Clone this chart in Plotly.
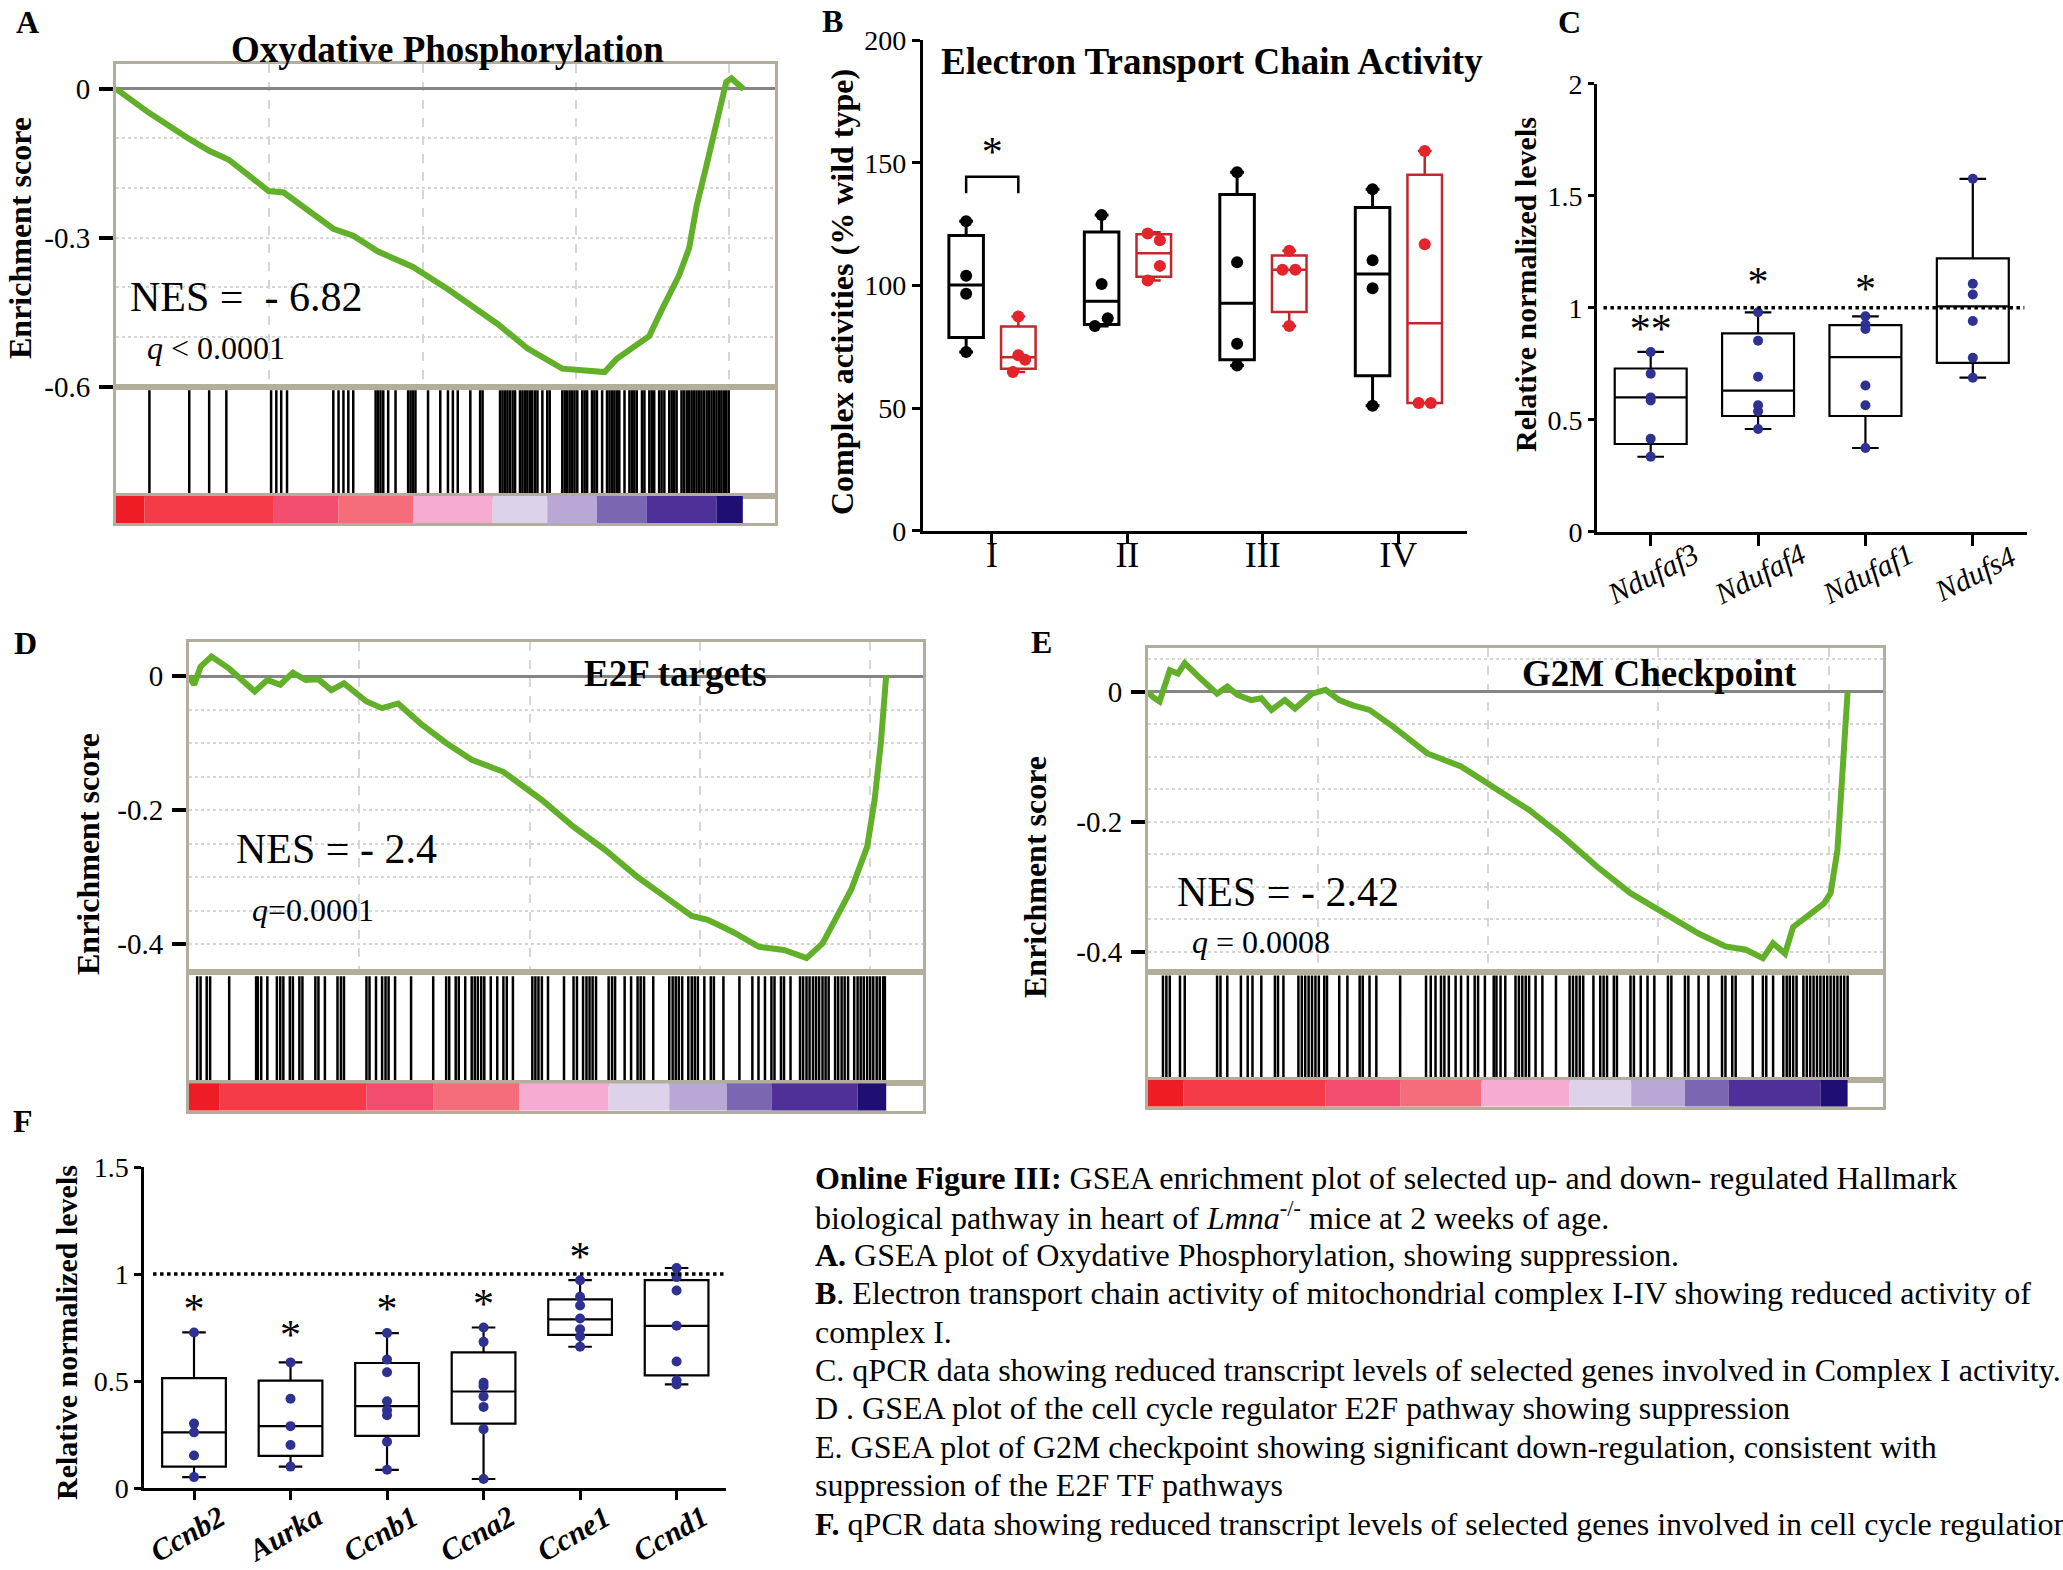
import plotly.graph_objects as go

W, H = 2063, 1570
FONT = "Liberation Serif"

# ---------------- DATA ----------------
# GSEA running enrichment curves (x = gene rank in thousands)
A_CURVE_K = [0, 1.09, 2.39, 3.04, 3.68, 4.98, 5.47, 7.09, 7.74, 8.55, 9.69, 10.83, 12.45, 13.42, 14.56,
             15.21, 15.94, 16.34, 16.83, 17.40, 17.80, 18.37, 18.70, 18.94, 19.27, 19.59, 19.91, 20.08, 20.48]
A_CURVE_ES = [0, -0.049, -0.101, -0.125, -0.143, -0.206, -0.209, -0.282, -0.296, -0.328, -0.359, -0.404,
              -0.474, -0.523, -0.564, -0.568, -0.571, -0.544, -0.523, -0.498, -0.446, -0.376, -0.321,
              -0.237, -0.153, -0.063, 0.014, 0.021, -0.001]
A_HITS = [1.09, 2.39, 3.04, 3.60, 5.06, 5.23, 5.39, 5.58, 7.09, 7.26, 7.42, 7.58, 7.74, 8.47, 8.55, 8.63,
          8.72, 8.88, 9.12, 9.53, 9.61, 9.69, 9.77, 10.18, 10.58, 10.83, 10.99, 11.15, 11.56, 11.88, 11.96,
          12.53, 12.61, 12.69, 12.77, 12.85, 12.94, 13.02, 13.18, 13.26, 13.34, 13.42, 13.50, 13.58, 13.67,
          13.75, 13.91, 14.07, 14.15, 14.56, 14.64, 14.72, 14.80, 14.88, 14.96, 15.05, 15.21, 15.29, 15.37,
          15.53, 15.61, 15.69, 15.86, 16.02, 16.10, 16.18, 16.26, 16.34, 16.42, 16.59, 16.75, 16.83, 16.91,
          16.99, 17.16, 17.24, 17.40, 17.48, 17.56, 17.72, 17.80, 17.89, 18.05, 18.13, 18.21, 18.29, 18.45,
          18.53, 18.62, 18.70, 18.78, 18.86, 18.94, 19.02, 19.10, 19.18, 19.27, 19.35, 19.43, 19.51, 19.59,
          19.67, 19.75, 19.83, 19.91, 19.99]
A_CB_EDGES = [0, 0.93, 5.15, 7.26, 9.69, 12.29, 14.07, 15.69, 17.32, 19.59, 20.45]

D_CURVE_K = [0, 0.15, 0.34, 0.66, 1.18, 1.93, 2.30, 2.68, 3.05, 3.43, 3.80, 4.18, 4.55, 4.93, 5.21, 5.67,
             6.14, 6.80, 7.55, 8.30, 9.23, 10.36, 11.29, 12.23, 13.17, 13.91, 14.76, 15.23, 15.97, 16.72,
             17.47, 18.13, 18.60, 18.97, 19.44, 19.91, 20.13, 20.32, 20.47]
D_CURVE_ES = [0, -0.013, 0.014, 0.029, 0.011, -0.023, -0.006, -0.013, 0.005, -0.006, -0.005, -0.021,
              -0.011, -0.028, -0.038, -0.048, -0.041, -0.071, -0.100, -0.125, -0.143, -0.185, -0.225,
              -0.260, -0.300, -0.327, -0.358, -0.364, -0.382, -0.404, -0.409, -0.421, -0.399, -0.364,
              -0.319, -0.255, -0.185, -0.096, 0.001]
D_HITS = [0.24, 0.34, 0.52, 0.62, 1.18, 1.97, 2.02, 2.12, 2.30, 2.58, 2.68, 2.77, 2.96, 3.05, 3.24, 3.33,
          3.71, 3.80, 3.99, 4.36, 4.46, 4.55, 5.21, 5.30, 5.49, 5.67, 5.77, 5.86, 6.05, 6.52, 7.17, 7.55,
          7.64, 7.83, 7.92, 8.11, 8.30, 8.39, 8.48, 8.58, 8.67, 8.86, 9.05, 9.23, 9.33, 9.51, 10.08, 10.17,
          10.26, 10.36, 10.54, 11.01, 11.29, 11.39, 11.57, 11.67, 11.76, 11.85, 11.95, 12.32, 12.42, 12.51,
          12.79, 12.98, 13.17, 13.26, 13.36, 13.63, 14.10, 14.20, 14.29, 14.38, 14.48, 14.66, 14.76, 14.85,
          14.94, 15.13, 15.32, 15.41, 15.69, 16.16, 16.54, 16.72, 16.91, 17.10, 17.19, 17.38, 17.47, 17.66,
          17.94, 18.03, 18.13, 18.22, 18.32, 18.41, 18.50, 18.60, 18.69, 18.78, 18.97, 19.06, 19.16, 19.25,
          19.35, 19.53, 19.63, 19.72, 19.81, 19.91, 20.00, 20.09, 20.19, 20.28, 20.38, 20.43]
D_CB_EDGES = [0, 0.90, 5.21, 7.17, 9.70, 12.32, 14.10, 15.79, 17.10, 19.63, 20.47]

E_CURVE_K = [0, 0.14, 0.34, 0.64, 0.88, 1.08, 1.53, 2.03, 2.33, 2.63, 3.03, 3.33, 3.63, 4.02, 4.32, 4.82,
             5.22, 5.62, 6.02, 6.51, 7.21, 8.21, 9.20, 10.20, 11.20, 12.19, 13.19, 14.18, 15.18, 16.18,
             16.97, 17.57, 18.07, 18.37, 18.72, 18.96, 19.36, 19.86, 20.06, 20.26, 20.42, 20.56]
E_CURVE_ES = [0, -0.008, -0.015, 0.033, 0.028, 0.044, 0.021, -0.003, 0.008, -0.005, -0.013, -0.010,
              -0.028, -0.013, -0.026, -0.003, 0.003, -0.013, -0.021, -0.028, -0.054, -0.095, -0.115,
              -0.149, -0.182, -0.223, -0.269, -0.310, -0.341, -0.372, -0.392, -0.397, -0.410, -0.387,
              -0.403, -0.362, -0.346, -0.326, -0.310, -0.244, -0.115, 0.0]
E_HITS = [0.44, 0.54, 0.64, 0.94, 1.08, 2.03, 2.13, 2.33, 2.73, 2.93, 3.07, 3.33, 3.73, 3.82, 3.98, 4.42,
          4.52, 4.62, 4.72, 4.82, 4.92, 5.02, 5.18, 5.26, 5.62, 5.86, 6.22, 6.31, 6.51, 6.71, 7.41, 8.17,
          8.31, 8.45, 8.61, 8.71, 8.84, 9.04, 9.20, 9.40, 9.60, 9.70, 9.90, 10.16, 10.24, 10.36, 10.50,
          10.80, 10.90, 11.00, 11.10, 11.20, 11.39, 11.59, 11.99, 12.39, 12.49, 12.59, 12.69, 12.79, 13.09,
          13.29, 13.39, 13.49, 13.69, 13.78, 14.18, 14.28, 14.48, 14.68, 14.88, 15.28, 15.38, 15.78, 15.88,
          16.18, 16.47, 16.87, 16.97, 17.17, 17.27, 17.77, 18.07, 18.17, 18.37, 18.67, 18.77, 18.86, 18.96,
          19.06, 19.26, 19.36, 19.46, 19.56, 19.66, 19.76, 19.86, 19.96, 20.06, 20.16, 20.26, 20.36, 20.46,
          20.56]
E_CB_EDGES = [0, 1.04, 5.22, 7.41, 9.80, 12.39, 14.20, 15.78, 17.07, 19.76, 20.56]

CB_COLORS = ["#ee1c25", "#f43b47", "#f24d6e", "#f56c7a", "#f6abd3", "#dcd3ea", "#b9a7d6",
             "#7b66b4", "#4f2f98", "#1f0f74"]

# Panel B: ETC complex activities (% wild type)
B_COMPLEX = ["I", "II", "III", "IV"]
B_WT_POINTS = [[126.2, 104.0, 96.6, 72.9], [128.7, 100.6, 86.6, 83.5],
               [146.2, 109.5, 76.3, 67.4], [139.2, 110.3, 98.9, 51.0]]
B_WT_Q1 = [78.8, 84.1, 69.7, 63.2]
B_WT_MED = [100.2, 93.6, 92.8, 104.7]
B_WT_Q3 = [120.4, 121.8, 137.1, 131.8]
B_WT_MIN = [72.9, 83.5, 67.4, 51.0]
B_WT_MAX = [126.2, 128.7, 146.2, 139.2]
B_KO_POINTS = [[87.4, 71.6, 69.7, 64.7], [121.2, 118.4, 108.0, 102.0],
               [114.2, 106.4, 106.4, 83.5], [154.8, 116.8, 52.1, 52.1]]
B_KO_Q1 = [66.1, 103.6, 89.2, 52.1]
B_KO_MED = [70.8, 113.1, 106.4, 84.6]
B_KO_Q3 = [83.3, 120.9, 112.2, 145.1]
B_KO_MIN = [64.7, 102.0, 83.5, 52.1]
B_KO_MAX = [87.4, 121.7, 114.2, 154.8]
B_SIG_STAR = "*"
B_SIG_Y = 153.0
B_BRACKET_TOP = 144.3
B_BRACKET_LEG = 137.6

# Panel C
C_GENES = ["Ndufaf3", "Ndufaf4", "Ndufaf1", "Ndufs4"]
C_POINTS = [[0.803, 0.706, 0.600, 0.586, 0.415, 0.335], [0.980, 0.853, 0.692, 0.565, 0.538, 0.459],
            [0.962, 0.925, 0.905, 0.653, 0.565, 0.374], [1.576, 1.107, 1.059, 0.941, 0.777, 0.688]]
C_Q1 = [0.392, 0.517, 0.517, 0.754]
C_MED = [0.600, 0.630, 0.780, 1.006]
C_Q3 = [0.729, 0.886, 0.923, 1.221]
C_MIN = [0.335, 0.459, 0.374, 0.688]
C_MAX = [0.803, 0.980, 0.962, 1.576]
C_STARS = ["**", "*", "*", ""]
C_STAR_Y = [0.89, 1.10, 1.07, None]

# Panel F
F_GENES = ["Ccnb2", "Aurka", "Ccnb1", "Ccna2", "Ccne1", "Ccnd1"]
F_POINTS = [[0.727, 0.301, 0.260, 0.152, 0.051], [0.587, 0.417, 0.289, 0.201, 0.100],
            [0.724, 0.600, 0.541, 0.405, 0.363, 0.340, 0.216, 0.085],
            [0.750, 0.683, 0.492, 0.476, 0.428, 0.379, 0.275, 0.042],
            [0.971, 0.894, 0.853, 0.792, 0.742, 0.708, 0.660],
            [1.028, 0.986, 0.923, 0.758, 0.591, 0.502, 0.484]]
F_Q1 = [0.100, 0.150, 0.244, 0.301, 0.716, 0.526]
F_MED = [0.260, 0.289, 0.383, 0.451, 0.788, 0.758]
F_Q3 = [0.513, 0.502, 0.584, 0.634, 0.881, 0.971]
F_MIN = [0.051, 0.100, 0.085, 0.042, 0.660, 0.484]
F_MAX = [0.727, 0.587, 0.724, 0.750, 0.971, 1.028]
F_STARS = ["*", "*", "*", "*", "*", ""]
F_STAR_Y = [0.819, 0.699, 0.819, 0.843, 1.064, None]

REF_LEVEL = 1.0

CAPTION = [
    "<b>Online Figure III:</b> GSEA enrichment plot of selected up- and down- regulated Hallmark",
    "biological pathway in heart of <i>Lmna</i><sup>-/-</sup> mice at 2 weeks of age.",
    "<b>A.</b> GSEA plot of Oxydative Phosphorylation, showing suppression.",
    "<b>B</b>. Electron transport chain activity of mitochondrial complex I-IV showing reduced activity of",
    "complex I.",
    "C. qPCR data showing reduced transcript levels of selected genes involved in Complex I activity.",
    "D . GSEA plot of the cell cycle regulator E2F pathway showing suppression",
    "E. GSEA plot of G2M checkpoint showing significant down-regulation, consistent with",
    "suppression of the E2F TF pathways",
    "<b>F.</b> qPCR data showing reduced transcript levels of selected genes involved in cell cycle regulation",
]

# ---------------- STYLE / LAYOUT HELPERS ----------------
FRAME = "#b3ad9b"
GRID = "#d6d6d6"
GREEN = "#62b02a"
NAVY = "#2e3192"
RED_PT = "#e3242b"
RED_BOX = "#c1272d"


def px(x):
    return x / W


def py(y):
    return 1 - y / H


def axn(kind, n):
    return f"{kind}axis" if n == 1 else f"{kind}axis{n}"


def ref(kind, n):
    return kind if n == 1 else f"{kind}{n}"


fig = go.Figure()
layout = {}
annotations = []
shapes = []


def text(t, x, y, size, bold=False, italic=False, angle=0, xanchor="center", yanchor="middle"):
    s = t
    if bold:
        s = f"<b>{s}</b>"
    if italic:
        s = f"<i>{s}</i>"
    annotations.append(dict(text=s, x=px(x), y=py(y), xref="paper", yref="paper", showarrow=False,
                            xanchor=xanchor, yanchor=yanchor, textangle=angle,
                            font=dict(family=FONT, size=size, color="black")))


def gsea(n, xpx, es_px, hit_px, cb_px, xmax, yrange, tickvals, minor, ck, ces, hits, edges):
    n1, n2, n3 = n, n + 1, n + 2
    xdom = [px(xpx[0]), px(xpx[1])]
    frame = dict(showline=True, mirror=True, linecolor=FRAME, linewidth=3, automargin=False)
    layout[axn("x", n1)] = dict(domain=xdom, range=[0, xmax], anchor=ref("y", n1), showticklabels=False,
                                ticks="", showgrid=True, gridcolor=GRID, griddash="dash", gridwidth=1.5,
                                tick0=0, dtick=5, zeroline=False, **frame)
    layout[axn("y", n1)] = dict(domain=[py(es_px[1]), py(es_px[0])], range=yrange, anchor=ref("x", n1),
                                tickvals=tickvals, ticktext=[("%g" % v) for v in tickvals],
                                ticks="outside", ticklen=14, tickwidth=4, tickcolor="black",
                                ticklabelstandoff=3,
                                tickfont=dict(family=FONT, size=29, color="black"),
                                showgrid=True, gridcolor=GRID, griddash="dot", gridwidth=1.5,
                                minor=dict(tick0=0, dtick=minor, showgrid=True, gridcolor=GRID,
                                           griddash="dot", gridwidth=1.5, ticks=""),
                                zeroline=True, zerolinecolor="#858585", zerolinewidth=2.5, **frame)
    for m, ypx in ((n2, hit_px), (n3, cb_px)):
        layout[axn("x", m)] = dict(domain=xdom, range=[0, xmax], anchor=ref("y", m), showticklabels=False,
                                   ticks="", showgrid=False, zeroline=False, **frame)
        layout[axn("y", m)] = dict(domain=[py(ypx[1]), py(ypx[0])], range=[0, 1], anchor=ref("x", m),
                                   showticklabels=False, ticks="", showgrid=False, zeroline=False, **frame)
    fig.add_trace(go.Scatter(x=ck, y=ces, mode="lines", line=dict(color=GREEN, width=6),
                             xaxis=ref("x", n1), yaxis=ref("y", n1), hoverinfo="skip"))
    hx, hy = [], []
    for h in hits:
        hx += [h, h, None]
        hy += [0, 0.965, None]
    fig.add_trace(go.Scatter(x=hx, y=hy, mode="lines", line=dict(color="black", width=2.5),
                             xaxis=ref("x", n2), yaxis=ref("y", n2), hoverinfo="skip"))
    centers = [(edges[i] + edges[i + 1]) / 2 for i in range(len(edges) - 1)]
    widths = [edges[i + 1] - edges[i] for i in range(len(edges) - 1)]
    fig.add_trace(go.Bar(x=centers, y=[1] * len(centers), width=widths,
                         marker=dict(color=CB_COLORS[:len(centers)], line=dict(width=0)),
                         xaxis=ref("x", n3), yaxis=ref("y", n3), hoverinfo="skip"))


# Panel A, D, E
gsea(1, (116, 775), (64, 386.5), (386.5, 496), (496, 523), 21.5, [-0.6, 0.05], [0, -0.3, -0.6], 0.1,
     A_CURVE_K, A_CURVE_ES, A_HITS, A_CB_EDGES)
gsea(4, (189, 923), (641.7, 972.3), (972.3, 1083.3), (1083.3, 1110.7), 21.55, [-0.4422, 0.0512],
     [0, -0.2, -0.4], 0.05, D_CURVE_K, D_CURVE_ES, D_HITS, D_CB_EDGES)
gsea(7, (1148, 1883), (648.3, 971.7), (971.7, 1080), (1080, 1106.7), 21.6, [-0.4308, 0.0668],
     [0, -0.2, -0.4], 0.05, E_CURVE_K, E_CURVE_ES, E_HITS, E_CB_EDGES)


def plain_axes(n, xpx, ypx, xr, yr, ytickvals, xticktext, ylen, xlen, show_xlabels=True, xstandoff=0):
    layout[axn("x", n)] = dict(domain=[px(xpx[0]), px(xpx[1])], range=xr, anchor=ref("y", n),
                               tickvals=list(range(len(xticktext))), ticktext=xticktext,
                               showticklabels=show_xlabels, ticklabelstandoff=xstandoff,
                               ticks="outside", ticklen=xlen, tickwidth=3, tickcolor="black",
                               tickfont=dict(family=FONT, size=36, color="black"),
                               showline=True, linewidth=3, linecolor="black",
                               showgrid=False, zeroline=False, automargin=False)
    layout[axn("y", n)] = dict(domain=[py(ypx[0]), py(ypx[1])], range=yr, anchor=ref("x", n),
                               tickvals=ytickvals, ticktext=[("%g" % v) for v in ytickvals],
                               ticks="outside", ticklen=ylen, tickwidth=3, tickcolor="black",
                               tickfont=dict(family=FONT, size=28, color="black"),
                               showline=True, linewidth=3, linecolor="black", showgrid=False, zeroline=False,
                               automargin=False)


# Panel B
plain_axes(10, (922.8, 1467.4), (530.8, 40.2), [-0.51, 3.51], [0, 200], [0, 50, 100, 150, 200], B_COMPLEX,
           8, 10, xstandoff=-20)
WT_OFF, KO_OFF = -0.19, 0.195
B_WT_JIT = [[0, 0, 0, 0], [0, 0, 0.045, -0.05], [0, 0, 0, 0], [0, 0, 0, 0]]
B_KO_JIT = [[0, 0, 0.05, -0.04], [-0.045, 0.045, 0.045, -0.045], [0, -0.05, 0.045, 0], [0, 0, -0.045, 0.045]]
for off, q1, med, q3, lo, hi, col, lw in ((WT_OFF, B_WT_Q1, B_WT_MED, B_WT_Q3, B_WT_MIN, B_WT_MAX, "black", 3),
                                          (KO_OFF, B_KO_Q1, B_KO_MED, B_KO_Q3, B_KO_MIN, B_KO_MAX, RED_BOX, 2.5)):
    fig.add_trace(go.Box(x=[i + off for i in range(len(B_COMPLEX))], q1=q1, median=med, q3=q3,
                         lowerfence=lo, upperfence=hi, width=0.255, whiskerwidth=0.4, orientation="v",
                         line=dict(color=col, width=lw), fillcolor="rgba(0,0,0,0)", boxpoints=False,
                         xaxis="x10", yaxis="y10", hoverinfo="skip"))
for off, pts, jit, col in ((WT_OFF, B_WT_POINTS, B_WT_JIT, "black"), (KO_OFF, B_KO_POINTS, B_KO_JIT, RED_PT)):
    xs, ys = [], []
    for i, (p, j) in enumerate(zip(pts, jit)):
        for v, jj in zip(p, j):
            xs.append(i + off + jj)
            ys.append(v)
    fig.add_trace(go.Scatter(x=xs, y=ys, mode="markers", marker=dict(color=col, size=12),
                             xaxis="x10", yaxis="y10", hoverinfo="skip", cliponaxis=False))
fig.add_trace(go.Scatter(x=[WT_OFF, WT_OFF, KO_OFF, KO_OFF],
                         y=[B_BRACKET_LEG, B_BRACKET_TOP, B_BRACKET_TOP, B_BRACKET_LEG],
                         mode="lines", line=dict(color="black", width=2.5), xaxis="x10", yaxis="y10",
                         hoverinfo="skip"))
fig.add_trace(go.Scatter(x=[(WT_OFF + KO_OFF) / 2], y=[B_SIG_Y], mode="text", text=[B_SIG_STAR],
                         textfont=dict(family=FONT, size=42, color="black"), xaxis="x10", yaxis="y10",
                         hoverinfo="skip"))


def qpcr(n, genes, pts, q1, med, q3, lo, hi, stars, stary, bw, label_y, label_dx, label_font, angle):
    fig.add_trace(go.Box(x=list(range(len(genes))), q1=q1, median=med, q3=q3, lowerfence=lo, upperfence=hi,
                         width=bw, whiskerwidth=0.37, orientation="v", line=dict(color="black", width=2.2),
                         fillcolor="rgba(0,0,0,0)", boxpoints=False, xaxis=ref("x", n), yaxis=ref("y", n),
                         hoverinfo="skip"))
    xs, ys = [], []
    for i, p in enumerate(pts):
        xs += [i] * len(p)
        ys += p
    fig.add_trace(go.Scatter(x=xs, y=ys, mode="markers", marker=dict(color=NAVY, size=10),
                             xaxis=ref("x", n), yaxis=ref("y", n), hoverinfo="skip", cliponaxis=False))
    sx = [i for i, s in enumerate(stars) if s]
    fig.add_trace(go.Scatter(x=sx, y=[stary[i] for i in sx], mode="text", text=[stars[i] for i in sx],
                             textfont=dict(family=FONT, size=42, color="black"),
                             xaxis=ref("x", n), yaxis=ref("y", n), hoverinfo="skip", cliponaxis=False))
    shapes.append(dict(type="line", xref=f"{ref('x', n)} domain", yref=ref("y", n), x0=0.015, x1=0.995,
                       y0=REF_LEVEL, y1=REF_LEVEL, line=dict(color="black", width=3.5, dash="dot")))
    # rotated category labels, centred under each tick
    for i, g in enumerate(genes):
        annotations.append(dict(text=label_font.format(g), x=i + label_dx, y=py(label_y), xref=ref("x", n),
                                yref="paper", showarrow=False, xanchor="center", yanchor="middle",
                                textangle=angle, font=dict(family=FONT, size=30, color="black")))


# Panel C
plain_axes(11, (1597, 2026.5), (531.8, 83.8), [-0.5, 3.5], [0, 2], [0, 0.5, 1, 1.5, 2], C_GENES,
           6, 11, show_xlabels=False)
qpcr(11, C_GENES, C_POINTS, C_Q1, C_MED, C_Q3, C_MIN, C_MAX, C_STARS, C_STAR_Y, 0.67,
     574, 0.02, "<i>{}</i>", -27)

# Panel F
plain_axes(12, (144.3, 726.4), (1488, 1167), [-0.515, 5.516], [0, 1.5], [0, 0.5, 1, 1.5], F_GENES,
           7, 9, show_xlabels=False)
qpcr(12, F_GENES, F_POINTS, F_Q1, F_MED, F_Q3, F_MIN, F_MAX, F_STARS, F_STAR_Y, 0.66,
     1533, -0.07, "<b><i>{}</i></b>", -30)

# ---------------- TEXTS ----------------
for lab, x, y in (("A", 27, 22), ("B", 832, 21), ("C", 1569, 22), ("D", 25, 643), ("E", 1041, 642),
                  ("F", 23, 1121)):
    text(lab, x, y, 32, bold=True)

text("Oxydative Phosphorylation", 447, 50, 37, bold=True)
text("E2F targets", 675, 673, 37, bold=True)
text("G2M Checkpoint", 1659, 673, 37, bold=True)
text("Electron Transport Chain Activity", 1212, 62, 37, bold=True)

text("Enrichment score", 20, 238, 32, bold=True, angle=-90)
text("Enrichment score", 88, 854, 32, bold=True, angle=-90)
text("Enrichment score", 1035, 877, 32, bold=True, angle=-90)
text("Complex activities (% wild type)", 842, 292, 32, bold=True, angle=-90)
text("Relative normalized levels", 1526, 285, 30, bold=True, angle=-90)
text("Relative normalized levels", 66, 1333, 30, bold=True, angle=-90)

text("NES =\u00a0 - 6.82", 128, 297, 42, xanchor="left")
text("<i>q</i> < 0.0001", 145, 348, 32, xanchor="left")
text("NES = - 2.4", 234, 849, 42, xanchor="left")
text("<i>q</i>=0.0001", 250, 910, 32, xanchor="left")
text("NES = - 2.42", 1175, 892, 42, xanchor="left")
text("<i>q</i> = 0.0008", 1190, 942, 32, xanchor="left")

for i, line in enumerate(CAPTION):
    text(line, 813, 1178 + 38.4 * i, 32, xanchor="left")

layout.update(dict(template="none", width=W, height=H, margin=dict(l=0, r=0, t=0, b=0, autoexpand=False),
                   paper_bgcolor="white", plot_bgcolor="rgba(0,0,0,0)", showlegend=False,
                   annotations=annotations, shapes=shapes, font=dict(family=FONT, color="black")))
fig.update_layout(**layout)
fig.write_html("out.html")
